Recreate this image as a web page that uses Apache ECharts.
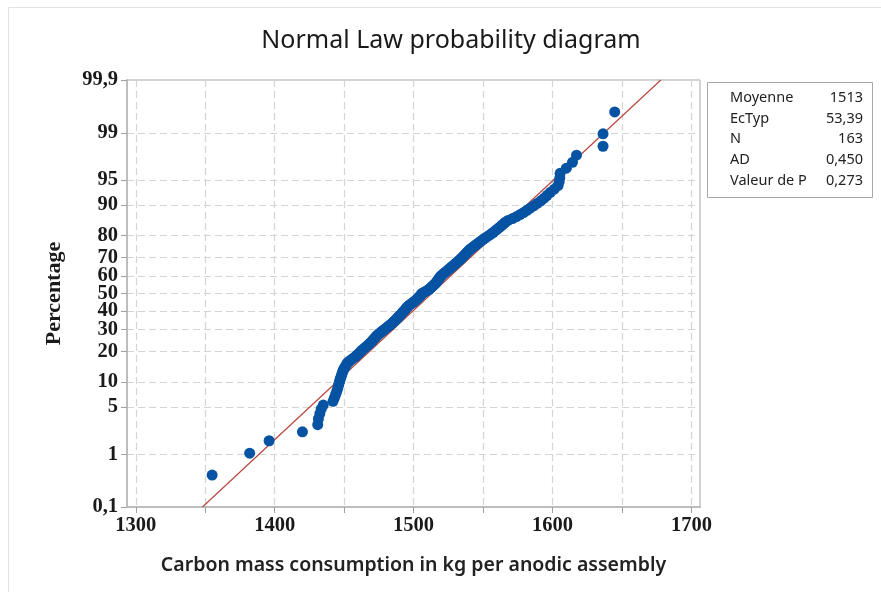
<!DOCTYPE html>
<html><head><meta charset="utf-8">
<script src="https://cdn.jsdelivr.net/npm/echarts@6.0.0/dist/echarts.min.js"></script>
<style>html,body{margin:0;padding:0;background:#fff}#c{width:881px;height:592px}</style>
</head><body><div id="c"></div>
<script>
const carbonValues = [
1355,1382,1396,1420,1431,1431.5,1432.5,1433.5,1435,1442,1443,1443.8,1444.6,1445.3,1445.8,1446.3,1446.8,1447.2,1447.8,
1448.3,1448.8,1449.3,1450,1450.8,1451.6,1452.3,1453.7,1455.3,1456.9,1458.4,1459.6,1460.8,1461.9,1463,1464.2,1465.4,1466.6,1467.7,1468.8,
1469.8,1470.6,1471.5,1472.3,1473.1,
1474,1475.1,1476.2,1477.3,1478.4,1479.6,1480.6,1481.7,1482.7,1483.8,1484.8,1485.7,1486.5,1487.3,1488.1,1488.9,1489.6,1490.5,1491.2,1491.9,
1492.6,1493.3,1494,1494.6,1495.3,1496,1496.9,1498,1499,1500,1501,1501.9,1502.7,1503.5,1504.2,1504.9,1505.5,1506,
1507.3,1508.7,1510,1511.2,1512.1,1512.9,1513.7,1514.5,1515.4,1516.1,1516.7,1517.2,1517.8,1518.3,1518.9,1519.4,1520.3,1521.2,1522.1,1523.1,
1524.1,1525,1526,1526.9,1527.9,1528.9,1529.8,1530.8,1531.8,1532.7,1533.7,1534.6,1535.4,1536.3,1537.1,1538,1538.8,1539.7,1540.6,
1541.9,1543.1,1544.4,1545.7,1547,1548.4,1549.7,1551.2,1552.7,1554.3,1555.9,1557.5,1558.9,1560.3,1561.8,1563.2,1564.6,1566,1568,1571.2,
1574.1,1576.7,1579.2,1581.6,1584,1586.5,1589,1591.6,1594,1596.1,1598.5,1601.3,1604,1604.8,1605.3,1605.5,1610,1614.4,1617.3,1636.4,
1636.4,1644.8
];
const percentTicks = [0.1,1,5,10,20,30,40,50,60,70,80,90,95,99,99.9];
const xLabelTicks = [1300,1400,1500,1600,1700];
const xGridTicks = [1300,1350,1400,1450,1500,1550,1600,1650,1700];
const statLabels = ['Moyenne','EcTyp','N','AD','Valeur de P'];
const statValues = ['1513','53,39','163','0,450','0,273'];
const fitMean = 1513;
const fitSd = 53.39;

function probit(p){
  const a=[-3.969683028665376e+01,2.209460984245205e+02,-2.759285104469687e+02,1.383577518672690e+02,-3.066479806614716e+01,2.506628277459239e+00];
  const b=[-5.447609879822406e+01,1.615858368580409e+02,-1.556989798598866e+02,6.680131188771972e+01,-1.328068155288572e+01];
  const c=[-7.784894002430293e-03,-3.223964580411365e-01,-2.400758277161838e+00,-2.549671348243470e+00,4.374664141464968e+00,2.938163982698783e+00];
  const d=[7.784695709041462e-03,3.224671290700398e-01,2.445134137142996e+00,3.754408661907416e+00];
  const pl=0.02425;
  let q,r;
  if(p<pl){q=Math.sqrt(-2*Math.log(p));return (((((c[0]*q+c[1])*q+c[2])*q+c[3])*q+c[4])*q+c[5])/((((d[0]*q+d[1])*q+d[2])*q+d[3])*q+1);}
  if(p<=1-pl){q=p-0.5;r=q*q;return (((((a[0]*r+a[1])*r+a[2])*r+a[3])*r+a[4])*r+a[5])*q/(((((b[0]*r+b[1])*r+b[2])*r+b[3])*r+b[4])*r+1);}
  q=Math.sqrt(-2*Math.log(1-p));return -(((((c[0]*q+c[1])*q+c[2])*q+c[3])*q+c[4])*q+c[5])/((((d[0]*q+d[1])*q+d[2])*q+d[3])*q+1);
}

const n = carbonValues.length;
const zTicks = percentTicks.map(p => probit(p/100));
const yMin = zTicks[0], yMax = zTicks[zTicks.length-1];
// Median-rank plotting positions (Minitab default)
const scatterData = carbonValues.map((x,i) => [x, probit((i+1-0.3)/(n+0.4))]);
const fitData = [[fitMean+fitSd*yMin, yMin],[fitMean+fitSd*yMax, yMax]];

function pctLabel(v){
  let best=0, bd=Infinity;
  zTicks.forEach((z,i)=>{const dd=Math.abs(z-v); if(dd<bd){bd=dd;best=i;}});
  return String(percentTicks[best]).replace('.', ',');
}

const serif = {fontFamily:'Liberation Serif', fontWeight:'bold', fontSize:20.5, color:'#1a1a1a'};
const gridLine = {show:true, lineStyle:{color:'#d4d4d4', type:[7,4], width:1.2}};

const statGraphics = [{
  type:'rect', shape:{x:707.5, y:82.5, width:165, height:115},
  style:{fill:'#fff', stroke:'#a8a8a8', lineWidth:1}
}];
statLabels.forEach((lab,i)=>{
  statGraphics.push({type:'text', x:730, y:98+i*20.6, style:{text:lab, fontFamily:'Noto Sans', fontSize:14.5, fill:'#222', textVerticalAlign:'middle'}});
  statGraphics.push({type:'text', x:863, y:98+i*20.6, style:{text:statValues[i], fontFamily:'Noto Sans', fontSize:14.5, fill:'#222', textAlign:'right', textVerticalAlign:'middle'}});
});

const chart = echarts.init(document.getElementById('c'), null, {renderer:'canvas'});
chart.setOption({
  backgroundColor:'#fff',
  animation:false,
  title:{text:'Normal Law probability diagram', left:446, top:23, textAlign:'center',
    textStyle:{fontFamily:'Noto Sans', fontWeight:'normal', fontSize:25, color:'#1a1a1a'}},
  grid:{left:127, right:181, top:80, bottom:85, show:true, borderColor:'#a6a6a6', borderWidth:1},
  xAxis:{type:'value', min:1293.7, max:1706.2,
    axisLine:{show:true, onZero:false, lineStyle:{color:'#bdbdbd', width:2}},
    axisTick:{show:true, customValues:xGridTicks, length:6, lineStyle:{color:'#a0a0a0'}},
    axisLabel:{customValues:xLabelTicks, margin:8, formatter:v=>String(v), ...serif},
    splitLine:gridLine,
    name:'Carbon mass consumption in kg per anodic assembly', nameLocation:'middle', nameGap:48,
    nameTextStyle:{fontFamily:'Noto Sans', fontWeight:600, fontSize:19.5, color:'#222'}},
  yAxis:{type:'value', min:yMin, max:yMax,
    axisLine:{show:true, onZero:false, lineStyle:{color:'#bdbdbd', width:2}},
    axisTick:{show:true, customValues:zTicks, length:6, lineStyle:{color:'#a0a0a0'}},
    axisLabel:{customValues:zTicks, formatter:pctLabel, margin:9, ...serif},
    splitLine:gridLine,
    name:'Percentage', nameLocation:'middle', nameGap:62,
    nameTextStyle:{fontFamily:'Liberation Serif', fontWeight:'bold', fontSize:22, color:'#1a1a1a'}},
  graphic:[
    {type:'rect', shape:{x:8.5, y:7.5, width:1000, height:1000}, style:{fill:null, stroke:'#e2e2e2', lineWidth:1}, silent:true, z:-10},
    ...statGraphics
  ],
  series:[
    {type:'line', data:fitData, symbol:'none', lineStyle:{color:'#b8463e', width:1.2}, z:2},
    {type:'scatter', data:scatterData, symbol:'circle', symbolSize:11, itemStyle:{color:'#0753a3', opacity:1}, z:3}
  ]
});
</script></body></html>
